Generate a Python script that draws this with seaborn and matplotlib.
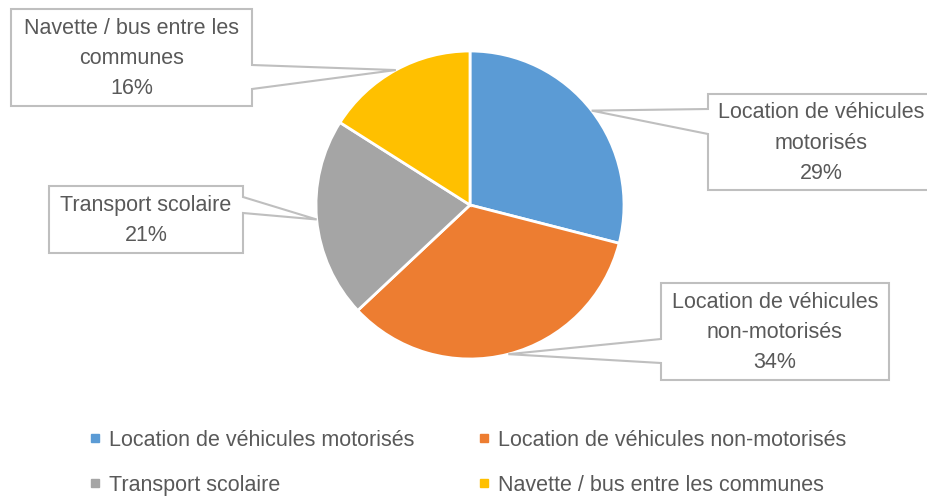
import matplotlib
matplotlib.use("Agg")
import matplotlib.pyplot as plt
import seaborn as sns
import numpy as np
from matplotlib.patches import Polygon
from matplotlib.lines import Line2D

sns.set_theme(style="white")
plt.rcParams['font.family'] = ['Liberation Sans', 'DejaVu Sans']

# Data
categories = ["Location de véhicules motorisés",
              "Location de véhicules non-motorisés",
              "Transport scolaire",
              "Navette / bus entre les communes"]
box_labels = ["Location de véhicules\nmotorisés",
              "Location de véhicules\nnon-motorisés",
              "Transport scolaire",
              "Navette / bus entre les\ncommunes"]
shares = [29, 34, 21, 16]
colors = ["#5B9BD5", "#ED7D31", "#A5A5A5", "#FFC000"]

TEXT = "#595959"
BORDER = "#BFBFBF"

fig = plt.figure(figsize=(9.27, 4.98), dpi=100)
ax = fig.add_axes([0, 0, 1, 1])

# pixel-like coordinate system (y pointing down)
cx, cy, r = 470, 205, 154
ax.pie(shares, colors=colors, startangle=-90, counterclock=True,
       center=(cx, cy), radius=r, frame=True,
       wedgeprops=dict(edgecolor="white", linewidth=2))
ax.set_xlim(0, 927)
ax.set_ylim(498, 0)
ax.set_aspect("equal")
ax.axis("off")

# callout boxes: (x0, y0, x1, y1), side of wedge, wedge y-range on that side
boxes = [
    ((708, 94, 934, 190), "left", (109, 134)),
    ((661, 283, 889, 380), "left", (339, 363)),
    ((49, 186, 243, 253), "right", (197, 213)),
    ((11, 9, 252, 106), "right", (65, 89)),
]

cum = np.cumsum([0] + shares[:-1])
total = sum(shares)
for i, (lab, val) in enumerate(zip(box_labels, shares)):
    mid = -90 + 360 * (cum[i] + val / 2) / total
    ax_x = cx + r * np.cos(np.radians(mid))
    ax_y = cy + r * np.sin(np.radians(mid))
    (x0, y0, x1, y1), side, (wa, wb) = boxes[i]
    if side == "left":
        pts = [(x0, y0), (x1, y0), (x1, y1), (x0, y1), (x0, wb), (ax_x, ax_y), (x0, wa)]
    else:
        pts = [(x0, y0), (x1, y0), (x1, wa), (ax_x, ax_y), (x1, wb), (x1, y1), (x0, y1)]
    ax.add_patch(Polygon(pts, closed=True, facecolor="white", edgecolor=BORDER,
                         linewidth=1.5, zorder=3))
    ax.text((x0 + x1) / 2, (y0 + y1) / 2 + 1, f"{lab}\n{val}%", ha="center", va="center",
            fontsize=15.5, color=TEXT, linespacing=1.58, zorder=4)

# legend filled row by row (matplotlib fills columns first)
order = [0, 2, 1, 3]
handles = [Line2D([], [], marker="s", linestyle="", markersize=5.5,
                  markerfacecolor=colors[k], markeredgecolor=colors[k]) for k in order]
fig.legend(handles, [categories[k] for k in order], loc="upper left",
           bbox_to_anchor=(0.097, 0.137),
           ncol=2, frameon=False, fontsize=15.5, labelcolor=TEXT,
           handlelength=0.5, handletextpad=0.4, columnspacing=2.95,
           labelspacing=1.12, borderaxespad=0, borderpad=0)

fig.savefig("out.png", dpi=100, facecolor="white")
